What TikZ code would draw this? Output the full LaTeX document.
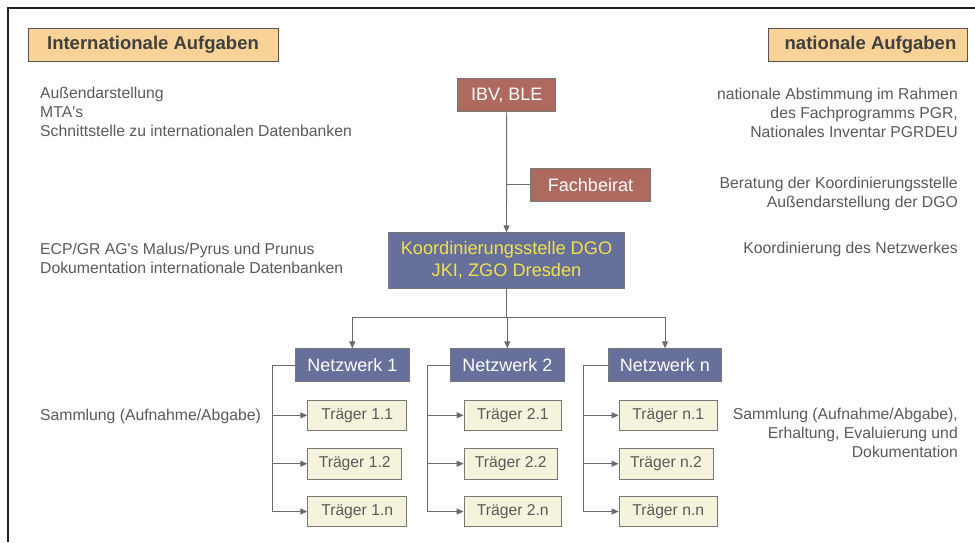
\documentclass[tikz,border=0pt]{standalone}
\usepackage{fontspec}
\setmainfont{Liberation Sans}[Ligatures=TeXOff]
\usetikzlibrary{arrows.meta}
\definecolor{titlefill}{HTML}{F8D296}
\definecolor{redbox}{HTML}{AE6A5F}
\definecolor{bluebox}{HTML}{66709A}
\definecolor{yellowtxt}{HTML}{F2E24A}
\definecolor{tragerfill}{HTML}{F6F3DC}
\definecolor{bordergray}{HTML}{555555}
\definecolor{linegray}{HTML}{6A6A6A}
\definecolor{txtgray}{HTML}{5A5A5A}
\definecolor{titletxt}{HTML}{404040}
\definecolor{framecol}{HTML}{231F20}
\begin{document}
\begin{tikzpicture}[x=1pt,y=-1pt,
  titlebox/.style={draw=bordergray, line width=1pt, fill=titlefill, text=titletxt,
    font=\fontsize{18.5}{20}\selectfont\bfseries, minimum height=33pt, inner sep=0},
  rednode/.style={draw=bordergray!80, line width=0.8pt, fill=redbox, text=white,
    font=\fontsize{18}{20}\selectfont, minimum height=33pt, inner sep=0},
  bluenode/.style={draw=bordergray!80, line width=0.8pt, fill=bluebox, text=white,
    font=\fontsize{18}{20}\selectfont, minimum height=33pt, inner sep=0},
  tragerbox/.style={draw=bordergray!80, line width=0.8pt, fill=tragerfill, text=txtgray,
    font=\fontsize{15.7}{18}\selectfont, minimum height=30.5pt, inner sep=0},
  txt/.style={font=\fontsize{15.75}{18}\selectfont, text=txtgray, inner sep=0},
  conn/.style={draw=linegray, line width=0.9pt},
  arr/.style={conn, -{Triangle[length=7pt,width=6pt]}}
]
\useasboundingbox (0,0) rectangle (975,542);
\fill[white] (0,0) rectangle (975,542);
% frame
\draw[framecol, line width=2pt] (8,542) -- (8,8) -- (975,8);

% title boxes
\node[titlebox, minimum width=250pt] (intl) at (153,44.5) {Internationale Aufgaben};
\node[titlebox, minimum width=199pt] (natl) at (867.5,44.5) {\hspace{6pt}nationale Aufgaben};

% left texts
\node[txt, anchor=base west] (la1) at (40,98.5) {Außendarstellung};
\node[txt, anchor=base west] (la2) at (40,117.5) {MTA's};
\node[txt, anchor=base west] (la3) at (40,136.5) {Schnittstelle zu internationalen Datenbanken};
\node[txt, anchor=base west] (lb1) at (40,254.5) {ECP/GR AG's Malus/Pyrus und Prunus};
\node[txt, anchor=base west] (lb2) at (40,273.5) {Dokumentation internationale Datenbanken};
\node[txt, anchor=base west] (lc1) at (40,420.5) {Sammlung (Aufnahme/Abgabe)};

% right texts
\node[txt, anchor=base east] (ra1) at (958,99) {nationale Abstimmung im Rahmen};
\node[txt, anchor=base east] (ra2) at (958,118) {des Fachprogramms PGR,};
\node[txt, anchor=base east] (ra3) at (958,137) {Nationales Inventar PGRDEU};
\node[txt, anchor=base east] (rb1) at (958,188.5) {Beratung der Koordinierungsstelle};
\node[txt, anchor=base east] (rb2) at (958,207) {Außendarstellung der DGO};
\node[txt, anchor=base east] (rc1) at (958,253.5) {Koordinierung des Netzwerkes};
\node[txt, anchor=base east] (rd1) at (958,419) {Sammlung (Aufnahme/Abgabe),};
\node[txt, anchor=base east] (rd2) at (958,438.5) {Erhaltung, Evaluierung und};
\node[txt, anchor=base east] (rd3) at (958,457.5) {Dokumentation};

% top hierarchy
\node[rednode, minimum width=98pt] (ibv) at (506.7,95) {IBV, BLE};
\node[rednode, minimum width=119.6pt, minimum height=32.7pt] (fach) at (590.5,184.6) {Fachbeirat};
\node[bluenode, minimum width=236pt, minimum height=55.6pt, text=yellowtxt, align=center,
  font=\fontsize{18.2}{22}\selectfont] (koord) at (506.5,260.5) {Koordinierungsstelle DGO\\JKI, ZGO Dresden};

\draw[arr] (ibv.south) -- (koord.north);
\draw[conn] (fach.west) -- (fach.west -| ibv.south);

% networks
\node[bluenode, minimum width=114pt] (n1) at (352.3,365.2) {Netzwerk 1};
\node[bluenode, minimum width=113.3pt] (n2) at (507.3,365.2) {Netzwerk 2};
\node[bluenode, minimum width=113.4pt] (nn) at (665,365.2) {Netzwerk n};

\coordinate (bus) at (506.5,317.5);
\draw[conn] (koord.south) -- (bus);
\draw[arr] (bus) -| (n1.north);
\draw[arr] (bus) -| (nn.north);
\draw[arr] (bus) -- (bus -| n2.north) -- (n2.north);

% Traeger
\node[tragerbox, minimum width=99pt] (t11) at (357.2,415.3) {Träger 1.1};
\node[tragerbox, minimum width=94pt] (t12) at (354.7,463.7) {Träger 1.2};
\node[tragerbox, minimum width=99pt] (t1n) at (357.2,511.5) {Träger 1.n};
\node[tragerbox, minimum width=97.7pt] (t21) at (512.8,415.3) {Träger 2.1};
\node[tragerbox, minimum width=93.7pt] (t22) at (510.8,463.7) {Träger 2.2};
\node[tragerbox, minimum width=97.7pt] (t2n) at (512.8,511.5) {Träger 2.n};
\node[tragerbox, minimum width=98.3pt] (tn1) at (668.2,415.3) {Träger n.1};
\node[tragerbox, minimum width=94pt] (tn2) at (666,463.7) {Träger n.2};
\node[tragerbox, minimum width=98.3pt] (tnn) at (668.2,511.5) {Träger n.n};

\coordinate (b1) at (272,0);
\coordinate (b2) at (427,0);
\coordinate (bn) at (583.5,0);

\draw[arr] (n1.west) -| (b1 |- t1n.west) -- (t1n.west);
\draw[arr] (b1 |- t11.west) -- (t11.west);
\draw[arr] (b1 |- t12.west) -- (t12.west);

\draw[arr] (n2.west) -| (b2 |- t2n.west) -- (t2n.west);
\draw[arr] (b2 |- t21.west) -- (t21.west);
\draw[arr] (b2 |- t22.west) -- (t22.west);

\draw[arr] (nn.west) -| (bn |- tnn.west) -- (tnn.west);
\draw[arr] (bn |- tn1.west) -- (tn1.west);
\draw[arr] (bn |- tn2.west) -- (tn2.west);
\end{tikzpicture}
\end{document}
